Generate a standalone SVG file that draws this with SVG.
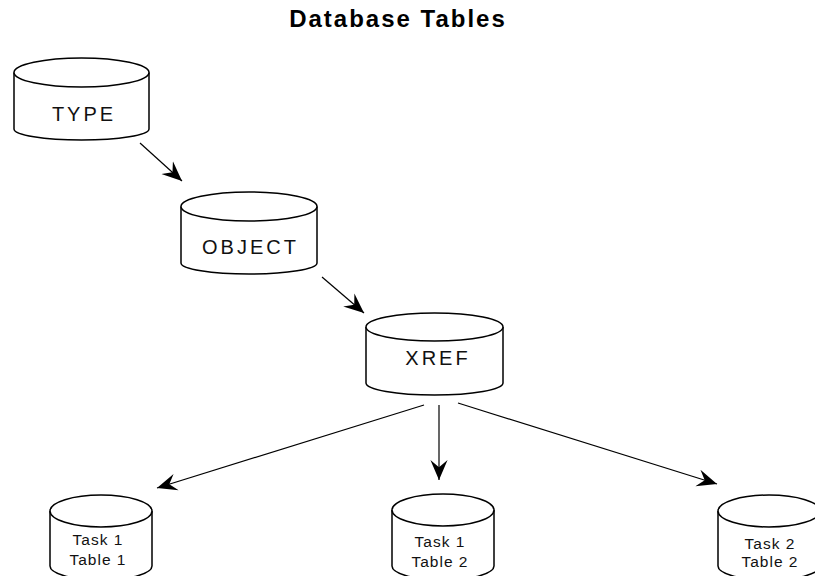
<svg xmlns="http://www.w3.org/2000/svg" width="815" height="576" viewBox="0 0 815 576">
<style>
.cyl{fill:#fff;stroke:#000;stroke-width:1.5}
.lbl{font-family:"Liberation Sans",Arial,sans-serif;font-size:20px;letter-spacing:3px;text-anchor:middle;fill:#111}
.sm{font-family:"Liberation Sans",Arial,sans-serif;font-size:15.5px;letter-spacing:1px;text-anchor:middle;fill:#111}
.title{font-family:"Liberation Sans",Arial,sans-serif;font-size:24px;font-weight:bold;letter-spacing:2px;text-anchor:middle;fill:#000}
.conn line{stroke:#000;stroke-width:1.2;marker-end:url(#ah)}
</style>
<defs>
<marker id="ah" markerUnits="userSpaceOnUse" markerWidth="20" markerHeight="20" viewBox="0 0 14 12" refX="14" refY="6" orient="auto">
<path d="M0,0 L14,6 L0,12 L5,6 Z" fill="#000"/>
</marker>
</defs>
<rect width="815" height="576" fill="#fff"/>
<text class="title" x="398" y="27">Database Tables</text>
<g id="type">
<path class="cyl" d="M14,72.5 L14,129 A67.5,11 0 0 0 149,129 L149,72.5"/>
<ellipse class="cyl" cx="81.5" cy="72.5" rx="67.5" ry="14.5"/>
<text class="lbl" x="84" y="121">TYPE</text>
</g>
<g id="object">
<path class="cyl" d="M181,206.5 L181,263 A68,11 0 0 0 317,263 L317,206.5"/>
<ellipse class="cyl" cx="249" cy="206.5" rx="68" ry="14.5"/>
<text class="lbl" x="250.5" y="254">OBJECT</text>
</g>
<g id="xref">
<path class="cyl" d="M366,327 L366,383 A68.5,12 0 0 0 503,383 L503,327"/>
<ellipse class="cyl" cx="434.5" cy="327" rx="68.5" ry="14"/>
<text class="lbl" x="438" y="365">XREF</text>
</g>
<g id="t1t1">
<path class="cyl" d="M50,511 L50,566 A51,14 0 0 0 152,566 L152,511"/>
<ellipse class="cyl" cx="101" cy="511" rx="51" ry="16"/>
<text class="sm" x="98" y="545">Task 1</text>
<text class="sm" x="98" y="565">Table 1</text>
</g>
<g id="t1t2">
<path class="cyl" d="M392,510 L392,566 A51,14 0 0 0 494,566 L494,510"/>
<ellipse class="cyl" cx="443" cy="510" rx="51" ry="16"/>
<text class="sm" x="440" y="547">Task 1</text>
<text class="sm" x="440" y="567">Table 2</text>
</g>
<g id="t2t2">
<path class="cyl" d="M718,511 L718,566 A51,14 0 0 0 820,566 L820,511"/>
<ellipse class="cyl" cx="769" cy="511" rx="51" ry="16"/>
<text class="sm" x="770" y="549">Task 2</text>
<text class="sm" x="770" y="567">Table 2</text>
</g>
<g class="conn" id="connectors">
<line x1="140" y1="143" x2="182" y2="181"/>
<line x1="322" y1="277" x2="364" y2="313"/>
<line x1="424" y1="405" x2="157" y2="488"/>
<line x1="439" y1="405" x2="439" y2="480"/>
<line x1="458" y1="403" x2="717" y2="484"/>
</g>
</svg>
